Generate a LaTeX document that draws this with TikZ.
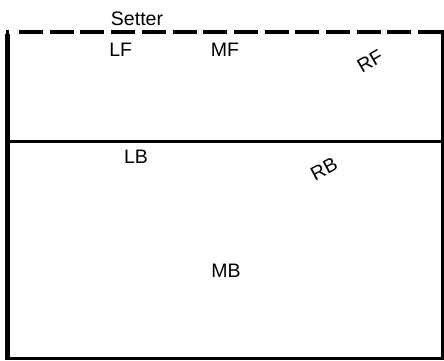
\documentclass[tikz,border=0pt]{standalone}
\usepackage{fontspec}
\setmainfont{Liberation Sans}
\begin{document}
\begin{tikzpicture}[x=1pt,y=-1pt,
  lbl/.style={inner sep=0pt, font=\fontsize{19.5}{23}\selectfont},
  thinline/.style={line width=3pt},
  thickline/.style={line width=5pt},
  netline/.style={line width=4pt, dash pattern=on 24pt off 6.7pt}]
\useasboundingbox (0,0) rectangle (444,360);
% corners
\coordinate (tl) at (7.5,34);
\coordinate (bl) at (7.5,360);
\coordinate (tr) at (442.5,30);
\coordinate (br) at (442.5,360);
\coordinate (ml) at (5,141.5);
\coordinate (mr) at (444,141.5);
\coordinate (bl2) at (5,358.5);
\coordinate (br2) at (444,358.5);
\coordinate (nl) at (19,32);
\coordinate (nr) at (444,32);
\coordinate (sl) at (6,32);
\coordinate (sr) at (9,32);
% court lines
\draw[thickline] (tl) -- (bl);
\draw[thinline] (tr) -- (br);
\draw[thinline] (ml) -- (mr);
\draw[thinline] (bl2) -- (br2);
\draw[line width=4pt] (sl) -- (sr);
\draw[netline] (nl) -- (nr);
% labels
\node[lbl, anchor=base] (setter) at (137,25) {Setter};
\node[lbl, anchor=base] (lf) at (120.7,56) {LF};
\node[lbl, anchor=base] (mf) at (225,56) {MF};
\node[lbl, rotate=30] (rf) at (370,61) {RF};
\node[lbl, anchor=base] (lb) at (136,163) {LB};
\node[lbl, rotate=28] (rb) at (324,169) {RB};
\node[lbl, anchor=base] (mb) at (226,277) {MB};
\end{tikzpicture}
\end{document}
